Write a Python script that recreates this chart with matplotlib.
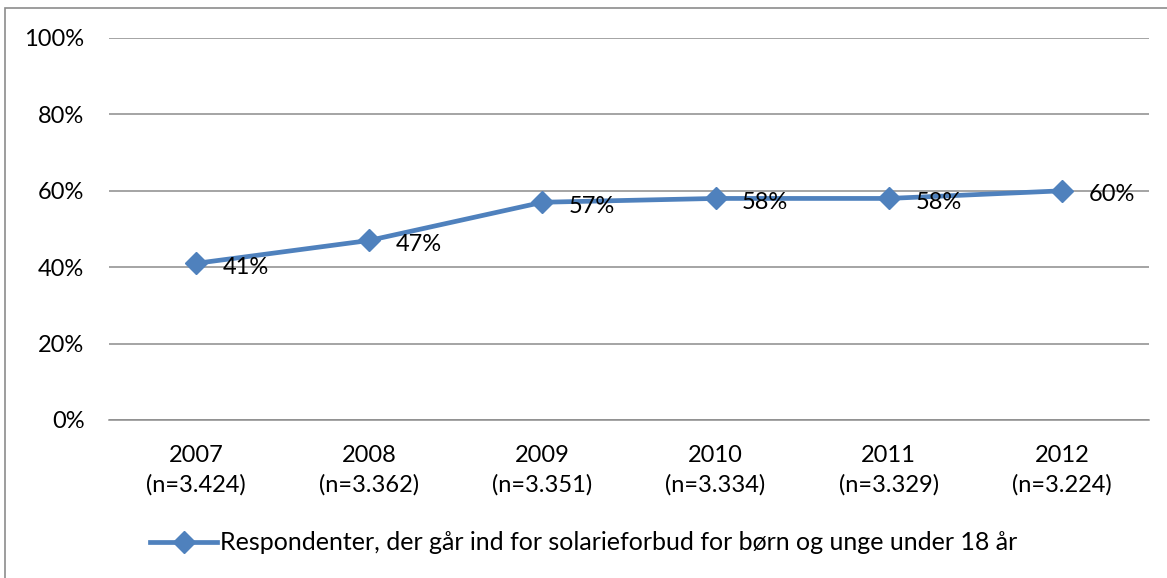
import matplotlib
matplotlib.use("Agg")
import matplotlib.pyplot as plt
from matplotlib.patches import Rectangle

years = ["2007", "2008", "2009", "2010", "2011", "2012"]
ns = ["(n=3.424)", "(n=3.362)", "(n=3.351)", "(n=3.334)", "(n=3.329)", "(n=3.224)"]
values = [41, 47, 57, 58, 58, 60]
series_name = "Respondenter, der går ind for solarieforbud for børn og unge under 18 år"

plt.rcParams['font.family'] = ['Lato', 'DejaVu Sans']

W, H = 1167, 578
fig = plt.figure(figsize=(W / 100, H / 100), dpi=100)

# chart outer border (clipped by figure edges)
fig.patches.append(Rectangle((4.5 / W, -0.1), 1.2, 1 - 8.5 / H + 0.1,
                             transform=fig.transFigure, fill=False,
                             edgecolor='#8c8c8c', linewidth=1.2))

left, right = 109.4 / W, 1148.6 / W
top, bottom = 1 - 38 / H, 1 - 420 / H
ax = fig.add_axes([left, bottom, right - left, top - bottom])

color = '#4F81BD'
fs = 17
x = list(range(len(years)))
ax.plot(x, values, color=color, linewidth=3.4, marker='D', markersize=11,
        label=series_name, zorder=3)
for xi, v in zip(x, values):
    ax.annotate(f"{v}%", (xi, v), xytext=(19, -3), textcoords='offset points',
                ha='left', va='center', fontsize=fs, color='black')

ax.set_xlim(-0.5, len(years) - 0.5)
ax.set_ylim(0, 100)
ax.set_yticks(range(0, 101, 20))
ax.set_yticklabels([f"{t}%" for t in range(0, 101, 20)], fontsize=fs)
ax.set_xticks(x)
ax.set_xticklabels([f"{y}\n{n}" for y, n in zip(years, ns)], fontsize=fs,
                   linespacing=1.45)
ax.tick_params(axis='y', length=0, pad=18)
ax.tick_params(axis='x', length=0, pad=18)
ax.grid(axis='y', color='#8c8c8c', linewidth=1.1)
ax.set_axisbelow(True)
for s in ['top', 'right', 'left']:
    ax.spines[s].set_visible(False)
ax.spines['bottom'].set_color('#8c8c8c')
ax.spines['bottom'].set_linewidth(1.1)

leg = fig.legend(loc='center', bbox_to_anchor=(0.5, 1 - 543 / H), frameon=False,
                 fontsize=18, handlelength=2.7, handletextpad=0.1)

fig.savefig("out.png", dpi=100)
